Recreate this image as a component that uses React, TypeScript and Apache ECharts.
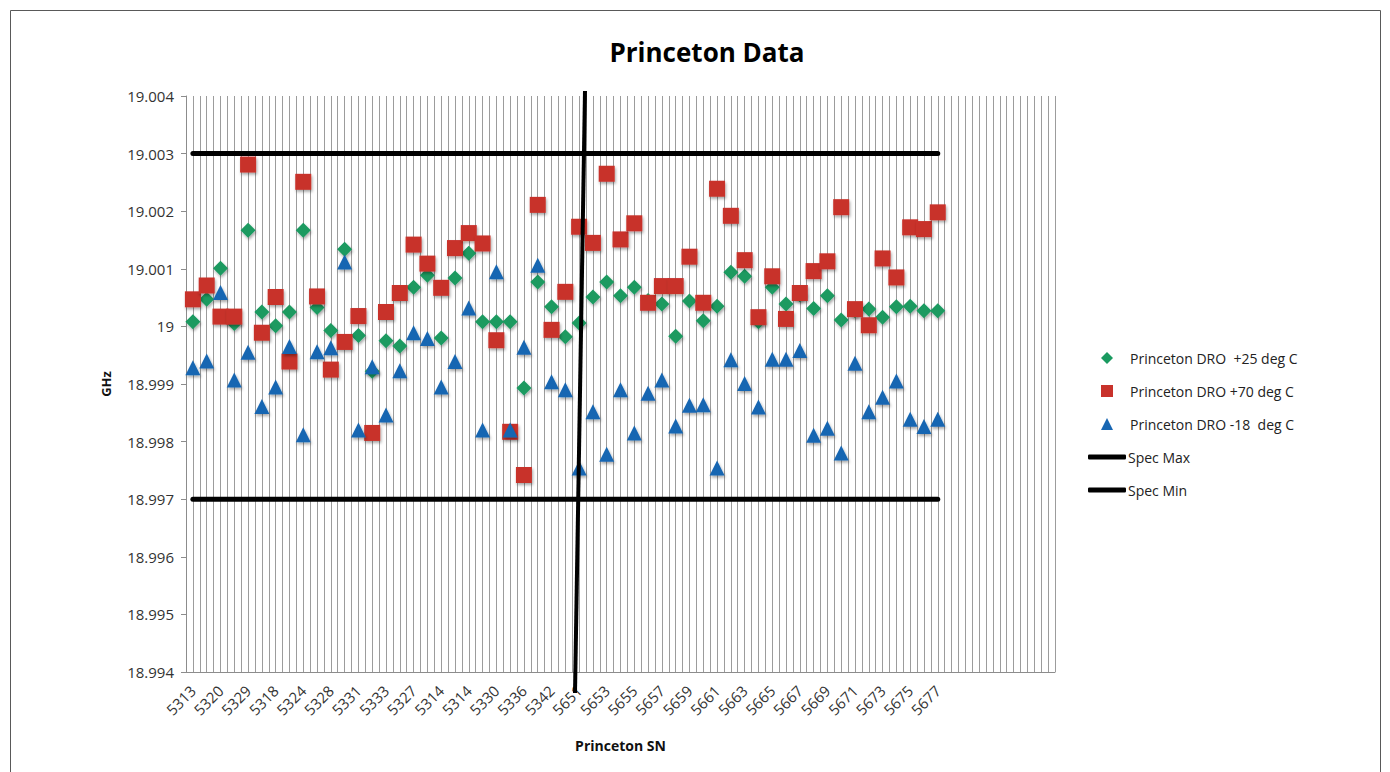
import React, { useEffect, useRef } from "react";
import * as echarts from "echarts";

// Category labels (serial numbers); unlabelled / trailing empty categories are blank
const categories: string[] = [
  "5313", "", "5320", "", "5329", "", "5318", "", "5324", "", "5328", "", "5331", "", "5333", "",
  "5327", "", "5314", "", "5314", "", "5330", "", "5336", "", "5342", "",
  "5651", "5652", "5653", "5654", "5655", "5656", "5657", "5658", "5659", "5660", "5661", "5662",
  "5663", "5664", "5665", "5666", "5667", "5668", "5669", "5670", "5671", "5672", "5673", "5674",
  "5675", "5676", "5677",
  "", "", "", "", "", "", "", "",
];

const dro25: number[] = [
  19.00008, 19.00047, 19.00101, 19.00005, 19.00167, 19.00025, 19.00001, 19.00025, 19.00167, 19.00033,
  18.99993, 19.00134, 18.99984, 18.99922, 18.99975, 18.99966, 19.00068, 19.00089, 18.9998, 19.00084,
  19.00127, 19.00008, 19.00008, 19.00008, 18.99893, 19.00077, 19.00034, 18.99982, 19.00006, 19.00051,
  19.00077, 19.00053, 19.00068, 19.00045, 19.00039, 18.99983, 19.00044, 19.0001, 19.00035, 19.00094,
  19.00087, 19.00008, 19.00068, 19.00039, 19.00055, 19.00031, 19.00053, 19.00011, 19.00027, 19.0003,
  19.00016, 19.00034, 19.00035, 19.00027, 19.00027,
];

const dro70: number[] = [
  19.00047, 19.00071, 19.00017, 19.00017, 19.00281, 18.99989, 19.00051, 18.99939, 19.00251, 19.00052,
  18.99925, 18.99973, 19.00018, 18.99815, 19.00025, 19.00058, 19.00142, 19.00109, 19.00067, 19.00136,
  19.00162, 19.00144, 18.99976, 18.99817, 18.99742, 19.00211, 18.99994, 19.0006, 19.00173, 19.00145,
  19.00265, 19.00151, 19.00179, 19.00041, 19.0007, 19.0007, 19.00121, 19.00041, 19.00239, 19.00192,
  19.00115, 19.00016, 19.00087, 19.00013, 19.00058, 19.00096, 19.00113, 19.00207, 19.0003, 19.00002,
  19.00118, 19.00085, 19.00172, 19.00169, 19.00198,
];

const droMinus18: number[] = [
  18.99928, 18.9994, 19.00059, 18.99907, 18.99955, 18.99861, 18.99895, 18.99965, 18.99812, 18.99956,
  18.99963, 19.00112, 18.9982, 18.9993, 18.99846, 18.99923, 18.99989, 18.99979, 18.99895, 18.99939,
  19.00032, 18.9982, 19.00095, 18.9982, 18.99964, 19.00106, 18.99904, 18.9989, 18.99754, 18.99852,
  18.99778, 18.9989, 18.99815, 18.99884, 18.99907, 18.99827, 18.99863, 18.99864, 18.99754, 18.99942,
  18.99901, 18.9986, 18.99943, 18.99943, 18.99958, 18.99811, 18.99823, 18.9978, 18.99936, 18.99852,
  18.99877, 18.99905, 18.99839, 18.99826, 18.99839,
];

const SPEC_MAX = 19.003;
const SPEC_MIN = 18.997;
const FIRST_INDEX = 0;
const LAST_INDEX = 54;

const Y_MIN = 18.994;
const Y_MAX = 19.004;
const Y_STEP = 0.001;

const NAME_25 = "Princeton DRO  +25 deg C";
const NAME_70 = "Princeton DRO +70 deg C";
const NAME_M18 = "Princeton DRO -18  deg C";
const NAME_MAX = "Spec Max";
const NAME_MIN = "Spec Min";

const FONT = "'Open Sans', 'Liberation Sans', sans-serif";

export default function App() {
  const ref = useRef<HTMLDivElement>(null);

  useEffect(() => {
    if (!ref.current) return;
    const chart = echarts.init(ref.current, undefined, { renderer: "svg" });
    const markerShadow = {
      opacity: 1,
      shadowBlur: 3,
      shadowOffsetX: 1,
      shadowOffsetY: 2,
      shadowColor: "rgba(0,0,0,0.35)",
    };
    const halfCells = categories.flatMap(() => ["", ""]);
    chart.setOption({
      animation: false,
      backgroundColor: "#ffffff",
      textStyle: { fontFamily: FONT },
      title: {
        text: "Princeton Data",
        left: 702,
        top: 34,
        textAlign: "center",
        textStyle: { fontFamily: FONT, fontSize: 26, fontWeight: "bold", color: "#000" },
      },
      grid: { left: 186, right: 335, top: 96, bottom: 100, containLabel: false },
      xAxis: [
        {
          type: "category",
          data: categories,
          boundaryGap: true,
          axisLine: { show: true, lineStyle: { color: "#8c8c8c", width: 1 } },
          axisTick: { show: false },
          splitLine: { show: false },
          axisLabel: {
            interval: 1,
            rotate: 45,
            margin: 16,
            fontSize: 15,
            color: "#333",
            fontFamily: FONT,
          },
          name: "Princeton SN",
          nameLocation: "middle",
          nameGap: 66,
          nameTextStyle: { fontFamily: FONT, fontSize: 14, fontWeight: "bold", color: "#111" },
        },
        {
          type: "category",
          data: halfCells,
          boundaryGap: true,
          position: "bottom",
          axisLine: { show: false },
          axisTick: { show: false },
          axisLabel: { show: false },
          splitLine: { show: true, interval: 0, lineStyle: { color: "#9c9c9c", width: 1 } },
        },
      ],
      yAxis: {
        type: "value",
        min: Y_MIN,
        max: Y_MAX,
        interval: Y_STEP,
        axisLine: { show: true, lineStyle: { color: "#8c8c8c" } },
        axisTick: { show: true, length: 5, lineStyle: { color: "#8c8c8c" } },
        splitLine: { show: false },
        axisLabel: {
          margin: 12,
          fontSize: 15,
          color: "#333",
          fontFamily: FONT,
          formatter: (v: number) => String(parseFloat(v.toFixed(3))),
        },
        name: "GHz",
        nameLocation: "middle",
        nameRotate: 90,
        nameGap: 74,
        nameTextStyle: { fontFamily: FONT, fontSize: 13, fontWeight: "bold", color: "#111" },
      },
      legend: [
        {
          orient: "vertical",
          left: 1096,
          top: 344,
          itemWidth: 12,
          itemHeight: 12,
          itemGap: 15,
          textStyle: {
            fontFamily: FONT,
            fontSize: 14,
            color: "#222",
            lineHeight: 18,
            padding: [0, 0, 0, 12],
          },
          data: [NAME_25, NAME_70, NAME_M18],
        },
        {
          orient: "vertical",
          left: 1083,
          top: 443,
          itemWidth: 38,
          itemHeight: 5,
          itemGap: 15,
          icon: "roundRect",
          textStyle: {
            fontFamily: FONT,
            fontSize: 14,
            color: "#222",
            lineHeight: 18,
            padding: [0, 0, 0, -3],
          },
          data: [NAME_MAX, NAME_MIN],
        },
      ],
      series: [
        {
          name: NAME_25,
          type: "scatter",
          xAxisIndex: 0,
          symbol: "diamond",
          symbolSize: 15,
          itemStyle: { color: "#1a9a60", ...markerShadow },
          data: dro25,
          z: 3,
        },
        {
          name: NAME_70,
          type: "scatter",
          xAxisIndex: 0,
          symbol: "rect",
          symbolSize: 16,
          itemStyle: { color: "#c8322b", ...markerShadow },
          data: dro70,
          z: 4,
        },
        {
          name: NAME_M18,
          type: "scatter",
          xAxisIndex: 0,
          symbol: "triangle",
          symbolSize: 15,
          itemStyle: { color: "#1766b2", ...markerShadow },
          data: droMinus18,
          z: 5,
        },
        {
          name: NAME_MAX,
          type: "line",
          xAxisIndex: 0,
          symbol: "none",
          showSymbol: false,
          lineStyle: { color: "#000", width: 5, cap: "round" },
          itemStyle: { color: "#000" },
          data: [
            [FIRST_INDEX, SPEC_MAX],
            [LAST_INDEX, SPEC_MAX],
          ],
          z: 2,
        },
        {
          name: NAME_MIN,
          type: "line",
          xAxisIndex: 0,
          symbol: "none",
          showSymbol: false,
          lineStyle: { color: "#000", width: 5, cap: "round" },
          itemStyle: { color: "#000" },
          data: [
            [FIRST_INDEX, SPEC_MIN],
            [LAST_INDEX, SPEC_MIN],
          ],
          z: 2,
        },
      ],
      graphic: [
        {
          type: "rect",
          shape: { x: 10.5, y: 10.5, width: 1370, height: 800 },
          style: { fill: "none", stroke: "#595959", lineWidth: 1 },
          silent: true,
          z: 0,
        },
        {
          type: "line",
          shape: { x1: 585, y1: 91, x2: 575, y2: 693 },
          style: { stroke: "#000", lineWidth: 4 },
          silent: true,
          z: 10,
        },
      ],
    });
    return () => chart.dispose();
  }, []);

  return (
    <div
      ref={ref}
      style={{ position: "absolute", left: 0, top: 0, width: 1390, height: 772, background: "#fff" }}
    />
  );
}
